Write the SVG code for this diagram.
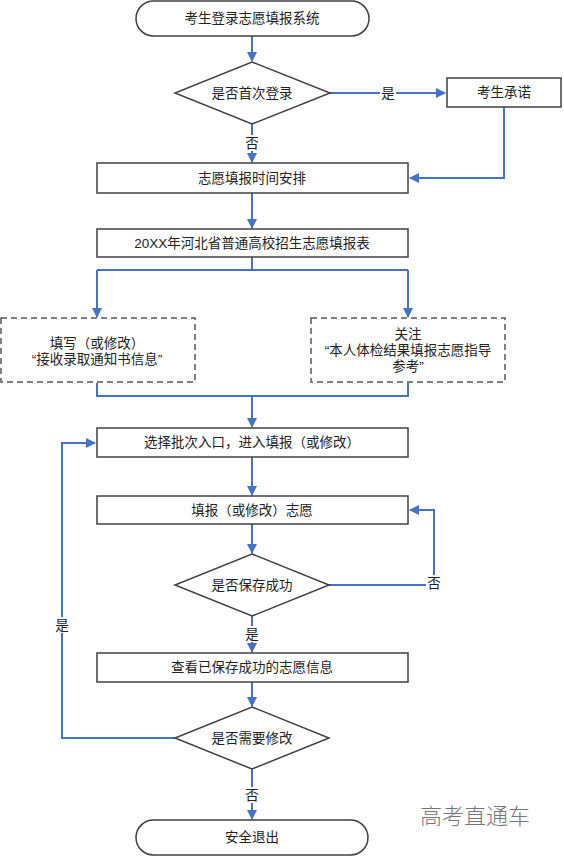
<svg xmlns="http://www.w3.org/2000/svg" width="564" height="857" viewBox="0 0 564 857">
<defs>
<marker id="ah" markerWidth="10" markerHeight="10" refX="9" refY="5" orient="auto" markerUnits="userSpaceOnUse">
<path d="M0,0 L10,5 L0,10 z" fill="#4472C4"/>
</marker>
<style>
.n{fill:#fff;stroke:#404040;stroke-width:1.5}
.d{fill:#fff;stroke:#555;stroke-width:1.5;stroke-dasharray:6,4}
.t{font-family:"Liberation Sans","Noto Sans CJK SC",sans-serif;font-size:13.5px;fill:#222;text-anchor:middle;dominant-baseline:central}
.c{fill:none;stroke:#4472C4;stroke-width:2}
.a{marker-end:url(#ah)}
.lb{fill:#fff}
</style>
</defs>
<rect width="564" height="857" fill="#fff"/>
<g id="connectors">
<path class="c a" d="M252,36 V61"/>
<path class="c a" d="M330,93 H445"/>
<path class="c a" d="M252,124 V162"/>
<path class="c a" d="M504,107 V178 H410"/>
<path class="c a" d="M252,193 V228"/>
<path class="c" d="M252,257 V270 H408 M252,270 H97"/>
<path class="c a" d="M97,270 V317"/>
<path class="c a" d="M408,270 V317"/>
<path class="c" d="M97,383 V396 H408 V383"/>
<path class="c a" d="M252,396 V427"/>
<path class="c a" d="M252,457 V495"/>
<path class="c a" d="M252,524 V553"/>
<path class="c a" d="M329,585 H434 V510 H410"/>
<path class="c a" d="M252,616 V652"/>
<path class="c a" d="M252,682 V706"/>
<path class="c a" d="M175,738 H62 V443 H95"/>
<path class="c a" d="M252,769 V819"/>
</g>
<g id="labels">
<rect class="lb" x="380" y="85" width="16" height="16"/>
<text class="t" x="388" y="93">是</text>
<rect class="lb" x="244" y="135" width="16" height="16"/>
<text class="t" x="252" y="143">否</text>
<rect class="lb" x="426" y="575" width="16" height="16"/>
<text class="t" x="434" y="583">否</text>
<rect class="lb" x="244" y="626" width="16" height="16"/>
<text class="t" x="252" y="634">是</text>
<rect class="lb" x="54" y="617" width="16" height="16"/>
<text class="t" x="62" y="625">是</text>
<rect class="lb" x="244" y="787" width="16" height="16"/>
<text class="t" x="252" y="795">否</text>
</g>
<g id="start">
<rect class="n" x="136" y="1" width="233" height="35" rx="17.5"/>
<text class="t" x="252" y="18.5">考生登录志愿填报系统</text>
</g>
<g id="first-login">
<polygon class="n" points="252,62 330,93 252,124 175,93"/>
<text class="t" x="252" y="93">是否首次登录</text>
</g>
<g id="promise">
<rect class="n" x="447" y="78" width="114" height="29"/>
<text class="t" x="504" y="92.5">考生承诺</text>
</g>
<g id="schedule">
<rect class="n" x="97" y="163" width="311" height="30"/>
<text class="t" x="252" y="178">志愿填报时间安排</text>
</g>
<g id="form">
<rect class="n" x="97" y="229" width="311" height="28"/>
<text class="t" x="252" y="243">20XX年河北省普通高校招生志愿填报表</text>
</g>
<g id="fill-info">
<rect class="d" x="1" y="318" width="194" height="64"/>
<text class="t" x="97" y="343">填写（或修改）</text>
<text class="t" x="97" y="359">“接收录取通知书信息”</text>
</g>
<g id="attention">
<rect class="d" x="311" y="318" width="194" height="64"/>
<text class="t" x="408" y="334">关注</text>
<text class="t" x="408" y="350">“本人体检结果填报志愿指导</text>
<text class="t" x="408" y="366">参考”</text>
</g>
<g id="select-batch">
<rect class="n" x="97" y="428" width="311" height="29"/>
<text class="t" x="252" y="442.5">选择批次入口，进入填报（或修改）</text>
</g>
<g id="fill-wish">
<rect class="n" x="97" y="496" width="311" height="28"/>
<text class="t" x="252" y="510">填报（或修改）志愿</text>
</g>
<g id="saved">
<polygon class="n" points="252,554 329,585 252,616 175,585"/>
<text class="t" x="252" y="585">是否保存成功</text>
</g>
<g id="view">
<rect class="n" x="97" y="653" width="311" height="29"/>
<text class="t" x="252" y="667.5">查看已保存成功的志愿信息</text>
</g>
<g id="need-modify">
<polygon class="n" points="252,707 329,738 252,769 175,738"/>
<text class="t" x="252" y="738">是否需要修改</text>
</g>
<g id="end">
<rect class="n" x="136" y="820" width="232" height="35" rx="17.5"/>
<text class="t" x="252" y="837.5">安全退出</text>
</g>
<text x="475" y="814" font-family="'Noto Sans CJK SC',sans-serif" font-size="22" font-weight="300" fill="#777" text-anchor="middle" dominant-baseline="central">高考直通车</text>
</svg>
